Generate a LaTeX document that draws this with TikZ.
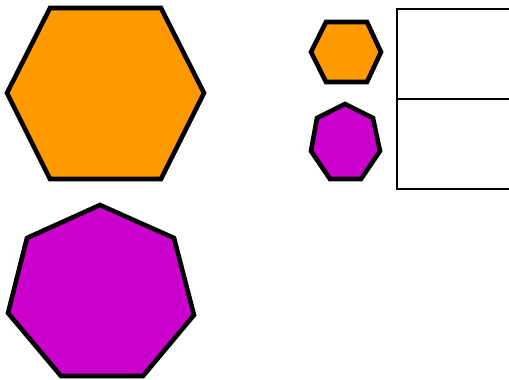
\documentclass[tikz,border=0pt]{standalone}
\definecolor{hexorange}{HTML}{FF9900}
\definecolor{heptmag}{HTML}{CC00CC}
\tikzset{
  shapeline/.style={draw=black, line width=4.6pt, line join=miter},
  hexfill/.style={shapeline, fill=hexorange},
  heptfill/.style={shapeline, fill=heptmag},
  legendbox/.style={draw=black, line width=2pt}
}
\begin{document}
\begin{tikzpicture}[x=1pt,y=-1pt]
\useasboundingbox (0,0) rectangle (509,380);
\clip (0,0) rectangle (509,380);
% big hexagon
\draw[hexfill] (50,8) -- (161,8) -- (204,93) -- (161,179) -- (50,179) -- (7,93) -- cycle;
% big heptagon
\draw[heptfill] (100,205) -- (174,238) -- (194,315) -- (143,376) -- (61,376) -- (8,313) -- (27,238) -- cycle;
% small hexagon
\draw[hexfill] (326,22) -- (367,22) -- (381,52) -- (367,82) -- (326,82) -- (311,52) -- cycle;
% small heptagon
\draw[heptfill] (345,104) -- (373,118) -- (380,151) -- (361,179) -- (330,179) -- (311,151) -- (317,118) -- cycle;
% legend boxes
\draw[legendbox] (520,9) -- (397,9) -- (397,189) -- (520,189);
\draw[legendbox] (397,99) -- (520,99);
\end{tikzpicture}
\end{document}
